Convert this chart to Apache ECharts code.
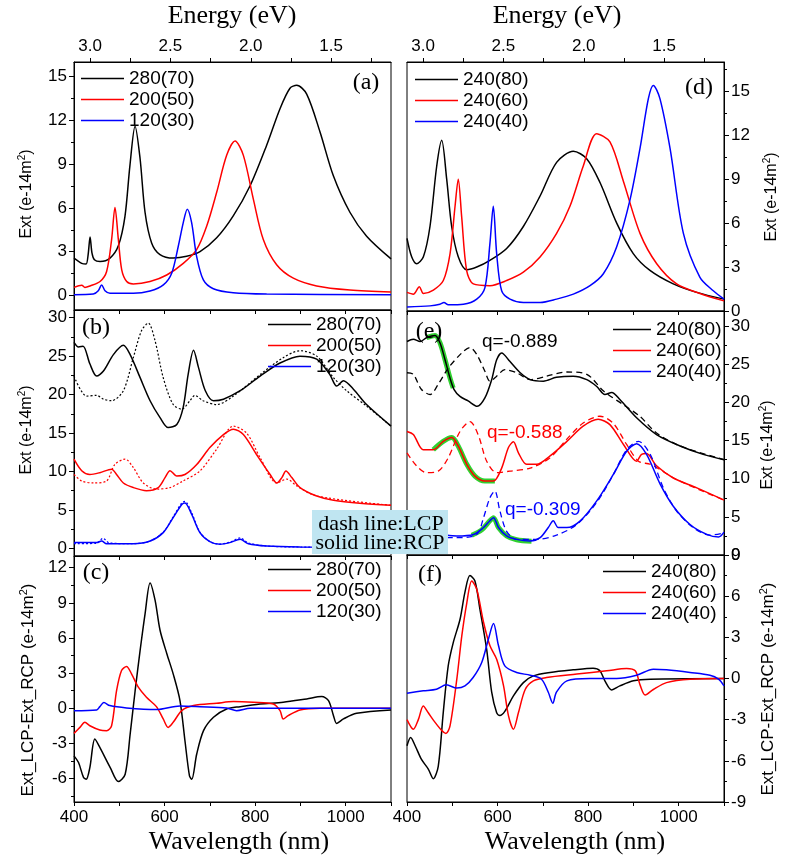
<!DOCTYPE html>
<html><head><meta charset="utf-8">
<script src="https://cdn.jsdelivr.net/npm/echarts@6/dist/echarts.min.js"></script>
<style>html,body{margin:0;padding:0;background:#fff}#c{width:787px;height:862px}</style>
</head><body><div id="c"></div>
<script>
// ---------- Tick labels ----------
const energyLabels = [3.0, 2.5, 2.0, 1.5];
const energyTicks = [3.0, 2.75, 2.5, 2.25, 2.0, 1.75, 1.5, 1.25];
const wlLabels = [400, 600, 800, 1000];
const wlTicks = [400, 500, 600, 700, 800, 900, 1000, 1100];
const legendLeft = ['280(70)', '200(50)', '120(30)'];
const legendRight = ['240(80)', '240(60)', '240(40)'];

// ---------- Panel (a): Ext vs Energy (eV) ----------
const a280 = [[3.100,2.56],[3.052,2.2],[3.025,2.15],[3.012,2.8],[3.000,4.0],[2.988,2.9],[2.973,2.45],[2.938,2.33],[2.876,2.56],[2.824,3.4],[2.783,5.4],[2.752,8.9],[2.720,11.6],[2.689,9.4],[2.658,5.7],[2.617,3.6],[2.565,2.8],[2.482,2.56],[2.399,2.68],[2.316,3.0],[2.212,3.95],[2.109,5.45],[2.005,7.5],[1.901,10.3],[1.818,12.8],[1.756,14.2],[1.714,14.4],[1.652,13.8],[1.569,11.2],[1.486,8.2],[1.383,5.7],[1.279,4.06],[1.127,2.5]];
const a200 = [[3.100,0.55],[3.052,0.7],[3.032,0.55],[3.000,0.65],[2.938,0.95],[2.897,1.64],[2.866,3.83],[2.845,6.03],[2.824,3.83],[2.803,1.75],[2.772,0.95],[2.731,0.79],[2.627,0.95],[2.523,1.4],[2.420,2.2],[2.337,3.14],[2.274,4.76],[2.212,7.07],[2.150,9.6],[2.098,10.58],[2.046,9.6],[1.984,6.6],[1.922,3.83],[1.839,2.1],[1.735,1.18],[1.590,0.65],[1.383,0.37],[1.127,0.23]];
const a120 = [[3.100,0.05],[2.980,0.09],[2.949,0.32],[2.928,0.72],[2.907,0.32],[2.876,0.14],[2.731,0.14],[2.627,0.3],[2.544,0.72],[2.492,1.52],[2.451,3.37],[2.420,4.99],[2.395,5.91],[2.368,4.99],[2.337,2.68],[2.295,1.06],[2.233,0.46],[2.109,0.18],[1.901,0.09],[1.127,0.05]];

// ---------- Panel (b): Ext vs Wavelength, solid RCP / dotted LCP ----------
const b280 = [[400,26.8],[410,26.2],[420,26.3],[435,24.0],[450,22.4],[465,23.06],[487,25.2],[509,26.4],[524,25.2],[546,22.2],[568,19.2],[590,17.0],[608,15.7],[627,16.1],[641,18.3],[652,22.6],[664,25.75],[675,23.5],[690,20.5],[708,19.2],[730,19.4],[767,20.5],[811,22.4],[855,24.1],[899,25.0],[936,24.6],[965,22.6],[980,21.1],[995,21.8],[1017,20.7],[1046,18.7],[1100,15.9]];
const b280L = [[400,22.4],[428,19.8],[450,19.9],[465,19.4],[483,19.2],[509,20.5],[531,24.8],[549,28.3],[564,29.3],[579,27.0],[597,22.2],[619,18.7],[638,18.1],[656,19.2],[667,19.9],[685,19.2],[715,18.7],[752,19.8],[811,22.6],[862,24.8],[899,25.7],[936,25.0],[973,22.2],[1002,20.5],[1046,18.5],[1100,15.9]];
const b200 = [[400,11.6],[417,10.1],[435,9.6],[457,9.84],[483,10.3],[494,9.6],[509,8.5],[531,7.9],[560,7.5],[586,7.9],[601,9.2],[612,10.1],[627,9.4],[645,9.6],[671,10.9],[700,13.1],[730,14.8],[752,15.5],[774,14.8],[803,12.2],[833,9.6],[848,8.5],[859,9.2],[868,10.06],[881,9.2],[899,7.9],[936,6.8],[973,6.24],[1031,5.85],[1100,5.6]];
const b200L = [[400,9.6],[417,8.76],[443,8.5],[472,8.76],[490,10.9],[513,11.6],[531,10.5],[553,8.5],[582,7.7],[612,7.9],[641,8.76],[678,10.06],[715,12.9],[752,15.9],[781,15.0],[811,11.8],[848,8.5],[870,9.0],[892,8.1],[936,6.8],[1100,5.6]];
const b120 = [[400,0.74],[450,0.74],[461,0.95],[472,0.6],[531,0.6],[568,0.95],[597,2.04],[619,4.0],[638,5.7],[645,5.9],[660,4.4],[678,2.04],[700,0.87],[722,0.52],[744,0.74],[767,1.17],[785,0.6],[825,0.3],[899,0.17],[1100,0.09]];
const b120L = [[400,0.6],[450,0.65],[464,1.3],[478,0.7],[531,0.6],[568,0.95],[597,2.1],[619,4.1],[638,5.9],[645,6.1],[660,4.6],[678,2.1],[700,0.87],[722,0.55],[744,0.8],[767,1.35],[785,0.7],[825,0.3],[899,0.17],[1100,0.09]];

// ---------- Panel (c): Ext_LCP - Ext_RCP ----------
const c280 = [[400,-4.06],[410,-4.63],[421,-5.9],[427,-6.06],[435,-5.06],[446,-2.63],[457,-3.34],[480,-5.06],[498,-6.26],[513,-5.63],[524,-2.2],[535,1.5],[546,4.94],[557,8.09],[568,10.7],[579,9.23],[590,6.66],[605,4.66],[619,2.94],[634,0.66],[645,-2.77],[655,-5.77],[660,-6.06],[671,-3.9],[686,-1.91],[708,-0.77],[737,-0.06],[767,0.14],[811,0.37],[862,0.51],[914,0.8],[947,1.0],[962,0.66],[973,-0.63],[980,-1.29],[995,-0.91],[1024,-0.43],[1100,-0.14]];
const c200 = [[400,-2.14],[413,-1.63],[424,-1.2],[435,-1.49],[457,-1.86],[472,-1.91],[483,-1.49],[494,1.51],[505,3.23],[516,3.57],[527,2.94],[542,1.8],[560,0.94],[582,0.14],[597,-0.91],[608,-1.63],[619,-1.2],[638,-0.2],[664,0.23],[715,0.43],[752,0.57],[796,0.51],[840,0.37],[855,-0.2],[862,-0.91],[873,-0.63],[899,-0.14],[943,0],[1100,0]];
const c120 = [[400,-0.2],[450,-0.14],[457,0.14],[466,0.49],[479,0.23],[516,0.03],[582,-0.11],[634,0.2],[678,0.14],[737,0.03],[759,-0.2],[789,0],[1100,0]];

// ---------- Panel (d): Ext vs Energy (eV) ----------
const d80 = [[3.100,4.96],[3.071,3.7],[3.040,3.23],[2.998,3.7],[2.957,5.77],[2.915,9.9],[2.884,11.65],[2.853,9.0],[2.822,5.77],[2.781,3.7],[2.729,2.82],[2.666,3.0],[2.584,3.46],[2.480,4.27],[2.376,5.77],[2.272,7.85],[2.169,10.15],[2.065,10.9],[1.982,10.4],[1.899,8.77],[1.795,6.0],[1.692,3.92],[1.588,2.77],[1.443,1.85],[1.297,1.27],[1.127,0.81]];
const d60 = [[3.100,1.27],[3.061,1.15],[3.023,1.66],[2.998,1.2],[2.936,1.43],[2.874,2.08],[2.832,3.92],[2.801,7.15],[2.781,9.0],[2.760,6.46],[2.729,2.77],[2.687,1.85],[2.584,1.73],[2.480,2.08],[2.376,2.65],[2.272,3.69],[2.169,5.3],[2.086,7.15],[2.003,9.9],[1.920,12.1],[1.837,11.54],[1.754,8.88],[1.650,5.3],[1.546,3.23],[1.422,1.85],[1.277,1.2],[1.127,0.69]];
const d40 = [[3.100,0.28],[2.957,0.35],[2.895,0.46],[2.870,0.58],[2.843,0.42],[2.749,0.46],[2.666,0.81],[2.615,1.6],[2.584,4.6],[2.563,7.15],[2.542,3.92],[2.511,1.38],[2.459,0.81],[2.376,0.58],[2.272,0.58],[2.169,0.81],[2.065,1.15],[1.961,1.73],[1.878,2.54],[1.795,4.38],[1.712,7.6],[1.650,11.1],[1.598,14.5],[1.567,15.4],[1.526,14.5],[1.463,11.1],[1.380,5.3],[1.277,2.3],[1.194,1.38],[1.127,0.81]];

// ---------- Panel (e): Ext vs Wavelength, solid RCP / dashed LCP ----------
const e80 = [[400,28.0],[414,28.3],[429,28.0],[443,28.5],[462,28.8],[473,27.8],[484,25.6],[495,23.2],[504,21.7],[517,20.8],[535,20.2],[555,19.5],[572,20.6],[587,23.0],[598,25.6],[609,26.5],[627,25.4],[650,23.9],[672,23.0],[701,22.8],[730,23.3],[767,23.45],[797,23.0],[819,22.1],[837,21.05],[852,21.3],[870,20.4],[907,18.0],[951,15.8],[1003,14.3],[1054,13.2],[1100,12.5]];
const e80L = [[400,23.9],[414,23.7],[432,21.7],[451,21.05],[469,22.4],[491,24.5],[521,26.5],[539,27.2],[554,26.3],[572,24.1],[583,22.8],[598,23.45],[616,24.3],[642,23.9],[672,23.0],[708,23.45],[753,24.0],[797,23.7],[834,21.5],[878,19.7],[914,18.2],[951,16.0],[1003,14.3],[1100,12.5]];
const e60 = [[400,16.2],[414,15.8],[436,13.8],[458,13.8],[480,14.9],[499,15.4],[513,14.3],[532,11.9],[550,10.35],[572,9.7],[591,9.7],[609,11.4],[624,14.1],[635,14.85],[646,13.4],[664,11.9],[686,11.9],[716,13.0],[753,14.9],[789,16.9],[822,17.8],[848,17.1],[878,14.5],[907,12.3],[918,13.2],[929,13.3],[951,11.7],[988,10.1],[1040,8.8],[1100,7.2]];
const e60L = [[400,13.4],[421,11.7],[443,10.8],[469,11.0],[491,12.75],[517,16.2],[539,17.5],[557,15.8],[576,12.3],[598,10.8],[627,11.0],[672,11.4],[716,12.75],[753,15.2],[789,17.3],[826,18.2],[855,17.3],[885,14.5],[911,12.3],[937,11.9],[959,11.2],[995,9.9],[1100,7.2]];
const e40 = [[400,2.5],[451,2.8],[473,2.7],[510,2.5],[547,2.7],[569,3.6],[583,4.5],[591,4.9],[602,3.6],[620,2.5],[642,2.05],[672,1.83],[694,2.27],[712,3.6],[723,4.5],[734,3.6],[753,3.6],[782,4.45],[819,7.1],[856,10.6],[885,13.6],[907,14.6],[929,13.2],[959,9.3],[988,6.4],[1025,4.0],[1062,2.7],[1088,2.36],[1100,3.0]];
const e40L = [[400,2.8],[436,2.36],[510,2.27],[554,2.7],[569,4.9],[583,7.5],[594,8.4],[605,5.8],[620,3.1],[642,2.05],[686,2.05],[730,2.6],[775,4.0],[819,6.9],[856,10.6],[885,13.8],[911,14.9],[937,13.2],[966,8.8],[995,5.8],[1032,3.6],[1069,2.6],[1100,2.9]];
// Fano fits (green)
const fit80 = [[443,28.5],[462,28.8],[473,27.8],[484,25.6],[495,23.2],[502,21.9]];
const fit60 = [[458,13.8],[480,14.9],[499,15.4],[513,14.3],[532,11.9],[550,10.35],[572,9.7],[594,9.7]];
const fit40 = [[543,2.6],[565,3.3],[583,4.5],[591,4.9],[602,3.6],[620,2.5],[642,2.0],[675,1.8]];

// ---------- Panel (f): Ext_LCP - Ext_RCP ----------
const f80 = [[400,-4.9],[408,-4.3],[418,-4.9],[432,-5.9],[447,-6.6],[458,-7.3],[469,-6.4],[480,-2.5],[491,0.92],[502,2.6],[517,4.3],[528,6.3],[539,7.5],[550,7.1],[561,5.06],[576,2.1],[587,-1.0],[598,-2.5],[605,-2.7],[616,-2.4],[635,-1.27],[657,-0.3],[679,0.19],[716,0.44],[767,0.63],[811,0.75],[826,0.56],[837,-0.17],[852,-0.83],[870,-0.54],[900,-0.17],[937,-0.05],[1100,0]];
const f60 = [[400,-3.0],[414,-3.7],[425,-3.0],[436,-2.0],[447,-2.5],[462,-3.2],[477,-3.8],[486,-4.0],[495,-3.45],[510,-0.05],[521,3.1],[532,5.5],[543,7.1],[554,6.5],[569,4.1],[583,2.4],[598,1.4],[613,-0.5],[624,-2.7],[635,-3.7],[646,-2.5],[661,-0.8],[679,-0.17],[708,0.07],[775,0.32],[841,0.56],[885,0.73],[904,0.56],[915,-0.5],[926,-1.2],[944,-0.8],[973,-0.3],[1025,-0.05],[1100,0]];
const f40 = [[400,-1.07],[436,-0.9],[465,-0.78],[487,-0.46],[510,-0.7],[528,-0.54],[546,0.07],[565,1.17],[580,2.9],[591,4.0],[602,2.4],[616,0.92],[642,0.44],[672,0.24],[697,-0.05],[712,-1.0],[722,-1.8],[730,-1.0],[753,-0.17],[804,0],[863,0],[907,0.24],[944,0.68],[973,0.63],[1025,0.44],[1069,0.24],[1088,-0.05],[1100,-0.54]];

// ---------- Build chart ----------
const SANS = 'Liberation Sans', SERIF = 'Liberation Serif';
const BLACK = '#000000', RED = '#ff0000', BLUE = '#0000ff', GREEN = '#30d030';

const grids = [
  {left:74, top:62, width:317, height:248},
  {left:74, top:310, width:317, height:246},
  {left:74, top:556, width:317, height:246},
  {left:407, top:62, width:317, height:249},
  {left:407, top:311, width:317, height:244},
  {left:407, top:555, width:317, height:247}
].map(g => Object.assign({show:true, borderColor:'#000', borderWidth:1, backgroundColor:'transparent'}, g));

const lab = {color:'#000', fontFamily:SANS, fontSize:17};
function energyAxis(gi) {
  return {type:'value', gridIndex:gi, position:'top', inverse:true, min:1.1273, max:3.1,
    axisLine:{show:true, onZero:false, lineStyle:{color:'#000', width:1}},
    axisTick:{show:true, customValues:energyTicks, length:4, lineStyle:{color:'#000'}},
    axisLabel:Object.assign({show:true, customValues:energyLabels, formatter:v=>Number(v).toFixed(1), margin:7}, lab),
    splitLine:{show:false}};
}
function wlAxis(gi, showLabels) {
  return {type:'value', gridIndex:gi, position:'bottom', min:400, max:1100,
    axisLine:{show:true, onZero:false, lineStyle:{color:'#000', width:1}},
    axisTick:{show:true, customValues:wlTicks, length:4, lineStyle:{color:'#000'}},
    axisLabel:showLabels ? Object.assign({show:true, customValues:wlLabels, formatter:v=>String(Math.round(v)), margin:7}, lab) : {show:false},
    splitLine:{show:false}};
}
const xAxis = [energyAxis(0), wlAxis(0,false), wlAxis(1,false), wlAxis(2,true),
               energyAxis(3), wlAxis(3,false), wlAxis(4,false), wlAxis(5,true)];

function range(a, b, s) { const r=[]; for (let v=a; v<=b+1e-9; v+=s) r.push(+v.toFixed(3)); return r; }
const ySpecs = [
  {gi:0, min:-1, max:16, major:range(0,15,3), minor:range(1.5,13.5,3), pos:'left'},
  {gi:1, min:-1, max:31, major:range(0,30,5), minor:range(2.5,27.5,5), pos:'left'},
  {gi:2, min:-8, max:13, major:range(-6,12,3), minor:range(-7.5,10.5,3), pos:'left'},
  {gi:3, min:0, max:17, major:range(0,15,3), minor:range(1.5,16.5,3), pos:'right'},
  {gi:4, min:0, max:32, major:range(0,30,5), minor:range(2.5,27.5,5), pos:'right'},
  {gi:5, min:-9, max:9, major:range(-9,9,3), minor:range(-7.5,7.5,3), pos:'right'}
];
const yAxis = [];
ySpecs.forEach(s => yAxis.push({type:'value', gridIndex:s.gi, position:s.pos, min:s.min, max:s.max,
  axisLine:{show:true, onZero:false, lineStyle:{color:'#000'}},
  axisTick:{show:true, customValues:s.major, length:5, lineStyle:{color:'#000'}},
  axisLabel:Object.assign({show:true, customValues:s.major, margin:7}, lab),
  splitLine:{show:false}}));
ySpecs.forEach(s => yAxis.push({type:'value', gridIndex:s.gi, position:s.pos, min:s.min, max:s.max,
  axisLine:{show:false, onZero:false}, axisTick:{show:true, customValues:s.minor, length:3, lineStyle:{color:'#000'}},
  axisLabel:{show:false}, splitLine:{show:false}}));

function S(name, data, xi, yi, color, kind, extra) {
  const ls = {color, width:1.5, type:'solid'};
  if (kind === 'dash') { ls.type = [6,4]; ls.width = 1.3; }
  if (kind === 'dot') { ls.type = [2,2]; ls.width = 1.2; }
  if (kind === 'fit') { ls.width = 5; }
  return Object.assign({type:'line', name, data, xAxisIndex:xi, yAxisIndex:yi, symbol:'none',
    smooth:0.3, lineStyle:ls, itemStyle:{color}, animation:false, z: kind==='fit'?2:3,
    emphasis:{disabled:true}, silent:true}, extra||{});
}
const series = [
  S('280(70)', a280, 0, 0, BLACK), S('200(50)', a200, 0, 0, RED), S('120(30)', a120, 0, 0, BLUE),
  S('280(70)', b280, 2, 1, BLACK), S('200(50)', b200, 2, 1, RED), S('120(30)', b120, 2, 1, BLUE),
  S('280(70) LCP', b280L, 2, 1, BLACK, 'dot'), S('200(50) LCP', b200L, 2, 1, RED, 'dot'), S('120(30) LCP', b120L, 2, 1, BLUE, 'dot'),
  S('280(70)', c280, 3, 2, BLACK), S('200(50)', c200, 3, 2, RED), S('120(30)', c120, 3, 2, BLUE),
  S('240(80)', d80, 4, 3, BLACK), S('240(60)', d60, 4, 3, RED), S('240(40)', d40, 4, 3, BLUE),
  S('fit80', fit80, 6, 4, GREEN, 'fit'), S('fit60', fit60, 6, 4, GREEN, 'fit'), S('fit40', fit40, 6, 4, GREEN, 'fit'),
  S('240(80)', e80, 6, 4, BLACK), S('240(60)', e60, 6, 4, RED), S('240(40)', e40, 6, 4, BLUE),
  S('240(80) LCP', e80L, 6, 4, BLACK, 'dash'), S('240(60) LCP', e60L, 6, 4, RED, 'dash'), S('240(40) LCP', e40L, 6, 4, BLUE, 'dash'),
  S('240(80)', f80, 7, 5, BLACK), S('240(60)', f60, 7, 5, RED), S('240(40)', f40, 7, 5, BLUE)
];

function L(data, left, top, w) {
  return {data, left, top, orient:'vertical', padding:0, itemGap:2, itemWidth:w||43, itemHeight:1.6,
    icon:'rect', selectedMode:false, textStyle:{fontFamily:SANS, fontSize:19, color:'#000'}};
}
const legend = [
  L(legendLeft, 81, 69), L(legendLeft, 268, 315), L(legendLeft, 268, 560),
  L(legendRight, 415, 70), L(legendRight, 613, 320, 38), L(legendRight, 603, 562)
];

function T(text, x, y, font, size, extra) {
  return Object.assign({type:'text', x, y, z:100, silent:true,
    style:{text, fontFamily:font, fontSize:size, fill:'#000', align:'center', verticalAlign:'middle'}}, extra||{});
}
function YT(text, x, y, size) {
  return {type:'text', x, y, rotation:Math.PI/2, z:100, silent:true,
    style:{text, fontFamily:SANS, fontSize:size, fill:'#000', align:'center', verticalAlign:'middle',
      rich:{s:{fontFamily:SANS, fontSize:Math.round(size*0.65), fill:'#000', padding:[0,0,9,0]}}}};
}
function Q(text, x, y, color) {
  return {type:'text', x, y, z:100, silent:true,
    style:{text, fontFamily:SANS, fontSize:19, fill:color, align:'left', verticalAlign:'middle'}};
}
const graphic = [
  T('Energy (eV)', 232, 16, SERIF, 26), T('Energy (eV)', 557, 16, SERIF, 26),
  T('Wavelength (nm)', 239, 842, SERIF, 26), T('Wavelength (nm)', 575, 842, SERIF, 26),
  T('(a)', 366, 83, SERIF, 24), T('(b)', 96, 328, SERIF, 24), T('(c)', 96, 573, SERIF, 24),
  T('(d)', 699, 88, SERIF, 24), T('(e)', 429, 332, SERIF, 24), T('(f)', 430, 575, SERIF, 24),
  YT('Ext (e-14m{s|2})', 27, 194, 16), YT('Ext (e-14m{s|2})', 27, 430, 16),
  YT('Ext_LCP-Ext_RCP (e-14m{s|2})', 28, 690, 17),
  YT('Ext (e-14m{s|2})', 772, 197, 16), YT('Ext (e-14m{s|2})', 768, 445, 16),
  YT('Ext_LCP-Ext_RCP (e-14m{s|2})', 768, 689, 17),
  Q('q=-0.889', 482, 342, BLACK), Q('q=-0.588', 487, 433, RED), Q('q=-0.309', 505, 510, BLUE),
  {type:'rect', z:150, silent:true, shape:{x:312, y:510, width:136, height:44}, style:{fill:'#bfe5f1'}},
  T('dash line:LCP', 381, 524, SERIF, 22, {z:160}), T('solid line:RCP', 380, 543, SERIF, 22, {z:160})
];

const chart = echarts.init(document.getElementById('c'), null, {renderer:'canvas'});
chart.setOption({animation:false, backgroundColor:'#fff', grid:grids, xAxis, yAxis, series, legend, graphic});
</script></body></html>
